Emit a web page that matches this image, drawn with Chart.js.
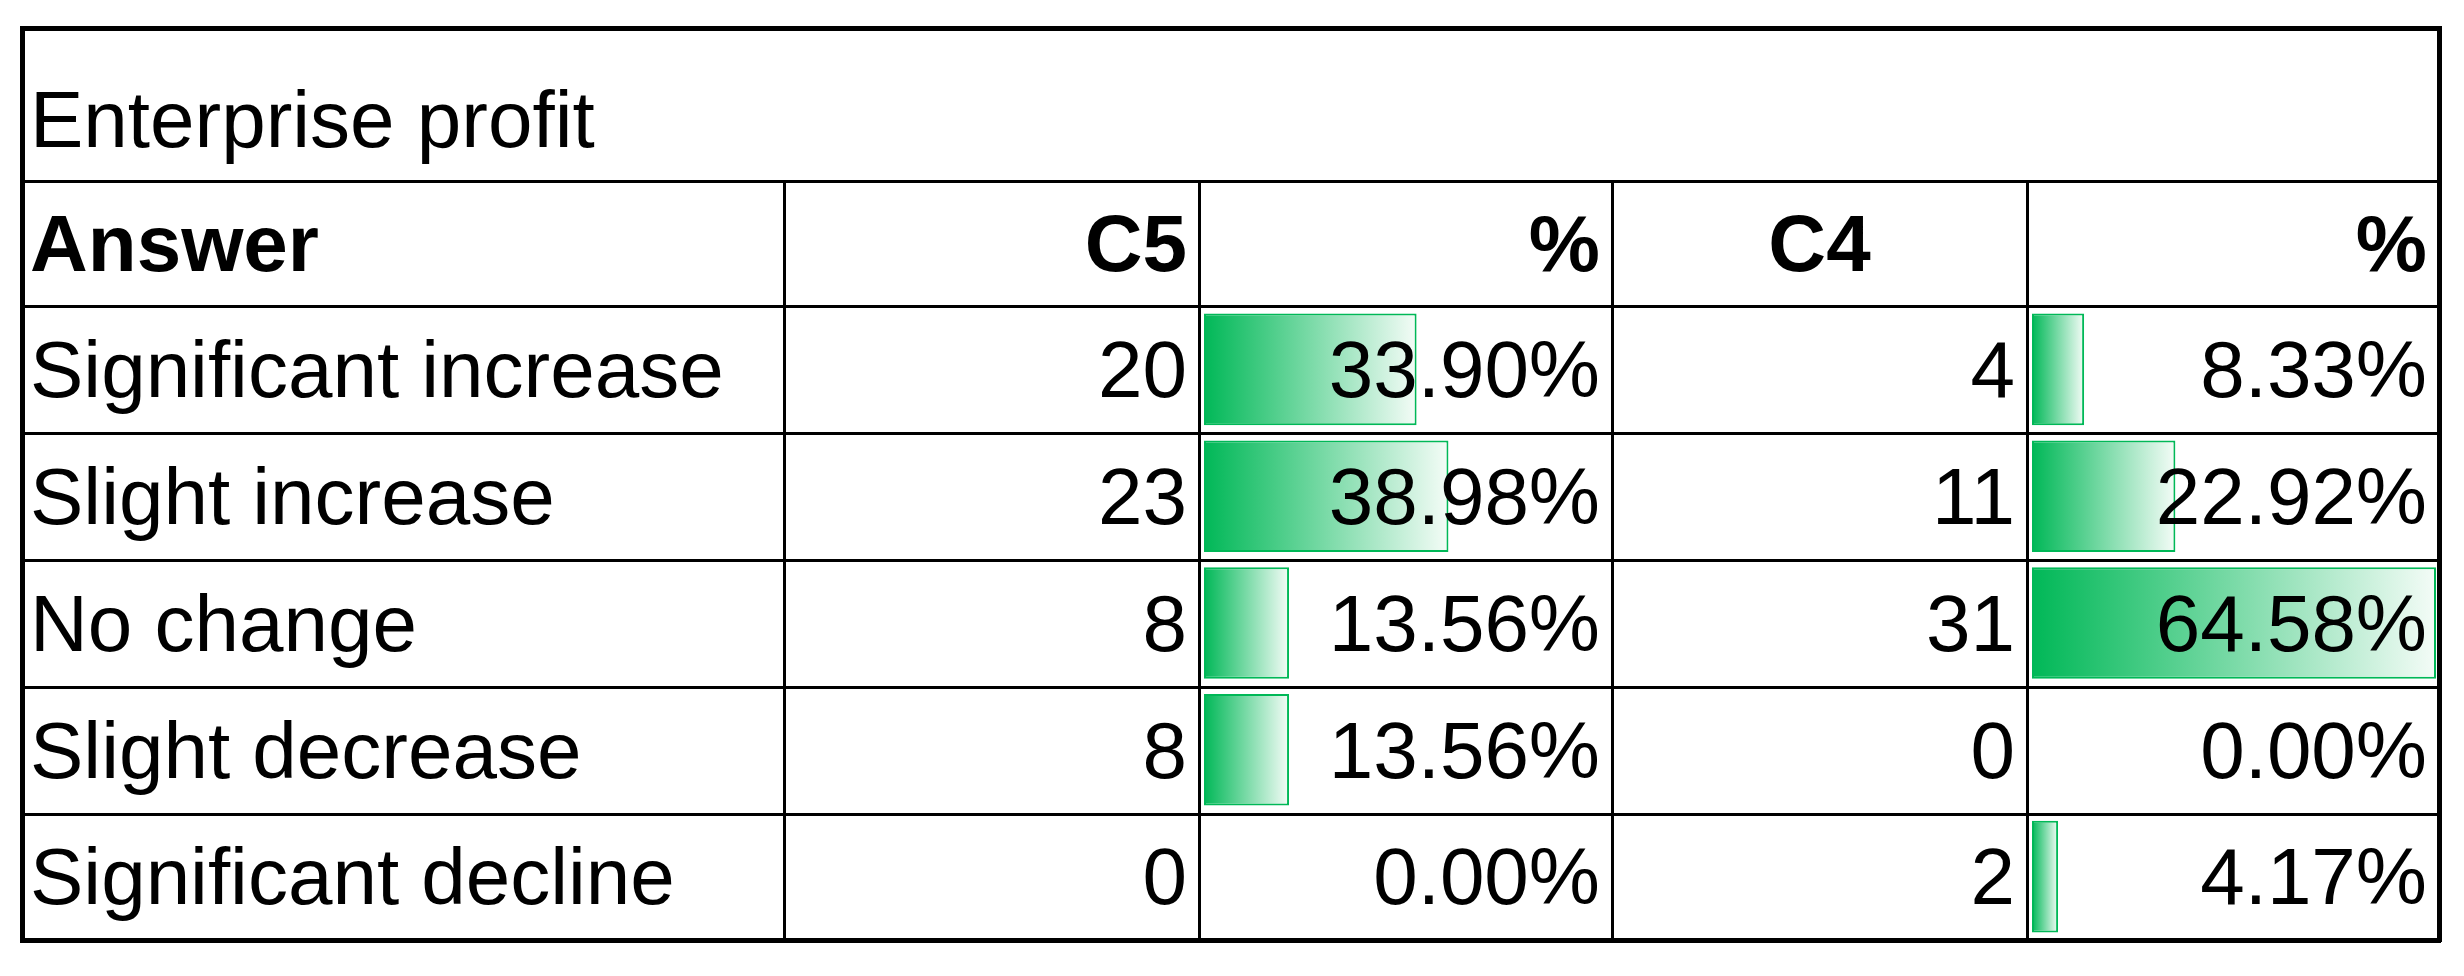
<!DOCTYPE html>
<html>
<head>
<meta charset="utf-8">
<script src="https://cdn.jsdelivr.net/npm/chart.js@4"></script>
<style>
  body { margin: 0; background: #fff; width: 2464px; height: 976px; position: relative; overflow: hidden;
         font-family: "Liberation Sans", Arial, sans-serif; color: #000; }
  .cell { position: absolute; box-sizing: border-box; font-size: 80px; line-height: 1;
          display: flex; align-items: center; white-space: nowrap; overflow: hidden; z-index: 2; }
  .r { justify-content: flex-end; padding-right: 12px; }
  .l { padding-left: 8px; }
  .c { justify-content: center; }
  .b { font-weight: bold; }
  .line { position: absolute; background: #000; z-index: 3; }
  .bars { position: absolute; z-index: 1; }
</style>
</head>
<body>
<div id="table"></div>
<div class="bars" id="wrapC5"><canvas id="chartC5"></canvas></div>
<div class="bars" id="wrapC4"><canvas id="chartC4"></canvas></div>
<script>
// Данные таблицы
const title = 'Enterprise profit';
const headers = ['Answer', 'C5', '%', 'C4', '%'];
const answers = ['Significant increase', 'Slight increase', 'No change', 'Slight decrease', 'Significant decline'];
const countC5 = [20, 23, 8, 8, 0];
const pctC5 = [33.90, 38.98, 13.56, 13.56, 0.00];
const countC4 = [4, 11, 31, 0, 2];
const pctC4 = [8.33, 22.92, 64.58, 0.00, 4.17];

// Геометрия таблицы
const colX = [22, 784, 1199, 1612, 2027, 2439];
const rowY = [28, 181, 306, 433, 560, 687, 814, 940];

const table = document.getElementById('table');

function addCell(text, x0, x1, y0, y1, cls) {
    const d = document.createElement('div');
    d.className = 'cell ' + cls;
    d.style.left = x0 + 'px';
    d.style.top = y0 + 'px';
    d.style.width = (x1 - x0) + 'px';
    d.style.height = (y1 - y0) + 'px';
    d.textContent = text;
    table.appendChild(d);
}

function addLine(x, y, w, h) {
    const d = document.createElement('div');
    d.className = 'line';
    d.style.left = x + 'px';
    d.style.top = y + 'px';
    d.style.width = w + 'px';
    d.style.height = h + 'px';
    table.appendChild(d);
}

// Заголовок
addCell(title, colX[0], colX[5], rowY[0] + 30, rowY[1], 'l');

// Шапка
const headAlign = ['l b', 'r b', 'r b', 'c b', 'r b'];
headers.forEach((h, i) => addCell(h, colX[i], colX[i + 1], rowY[1], rowY[2], headAlign[i]));

// Строки
const fmt = v => v.toFixed(2) + '%';
answers.forEach((a, i) => {
    const y0 = rowY[i + 2], y1 = rowY[i + 3];
    addCell(a, colX[0], colX[1] - 2, y0, y1, 'l');
    addCell(countC5[i], colX[1], colX[2], y0, y1, 'r');
    addCell(fmt(pctC5[i]), colX[2], colX[3], y0, y1, 'r');
    addCell(countC4[i], colX[3], colX[4], y0, y1, 'r');
    addCell(fmt(pctC4[i]), colX[4], colX[5], y0, y1, 'r');
});

// Линии сетки
addLine(colX[0] - 2, rowY[0] - 2, colX[5] - colX[0] + 4, 5);
addLine(colX[0] - 2, rowY[7] - 2, colX[5] - colX[0] + 4, 5);
addLine(colX[0] - 2, rowY[0] - 2, 5, rowY[7] - rowY[0] + 4);
addLine(colX[5] - 2, rowY[0] - 2, 5, rowY[7] - rowY[0] + 4);
for (let r = 1; r < 7; r++) addLine(colX[0], rowY[r] - 1, colX[5] - colX[0], 3);
for (let c = 1; c < 5; c++) addLine(colX[c] - 1, rowY[1], 3, rowY[7] - rowY[1]);

// Гистограммы в ячейках
const barMax = 64.58;

function makeBars(canvasId, wrapId, values, x0, x1) {
    const wrap = document.getElementById(wrapId);
    wrap.style.left = x0 + 'px';
    wrap.style.top = rowY[2] + 'px';
    wrap.style.width = (x1 - x0) + 'px';
    wrap.style.height = (rowY[7] - rowY[2]) + 'px';

    return new Chart(document.getElementById(canvasId), {
        type: 'bar',
        data: {
            labels: answers,
            datasets: [{
                data: values,
                backgroundColor: ctx => {
                    const chart = ctx.chart;
                    const xs = chart.scales.x;
                    if (!xs || !ctx.parsed) return '#00B857';
                    const start = xs.getPixelForValue(0);
                    const end = xs.getPixelForValue(ctx.parsed.x);
                    if (!isFinite(start) || !isFinite(end)) return '#00B857';
                    const g = chart.ctx.createLinearGradient(start, 0, Math.max(end, start + 1), 0);
                    g.addColorStop(0, '#00B857');
                    g.addColorStop(1, '#F4FCF7');
                    return g;
                },
                borderColor: '#00B857',
                borderWidth: 2,
                borderSkipped: false,
                barPercentage: 0.88,
                categoryPercentage: 1
            }]
        },
        options: {
            indexAxis: 'y',
            responsive: true,
            maintainAspectRatio: false,
            animation: false,
            layout: { padding: { left: 5, right: 3, top: 0, bottom: 0 } },
            plugins: { legend: { display: false }, tooltip: { enabled: false } },
            scales: {
                x: { display: false, min: 0, max: barMax },
                y: { display: false }
            }
        }
    });
}

makeBars('chartC5', 'wrapC5', pctC5, colX[2], colX[3]);
makeBars('chartC4', 'wrapC4', pctC4, colX[4], colX[5]);
</script>
</body>
</html>
